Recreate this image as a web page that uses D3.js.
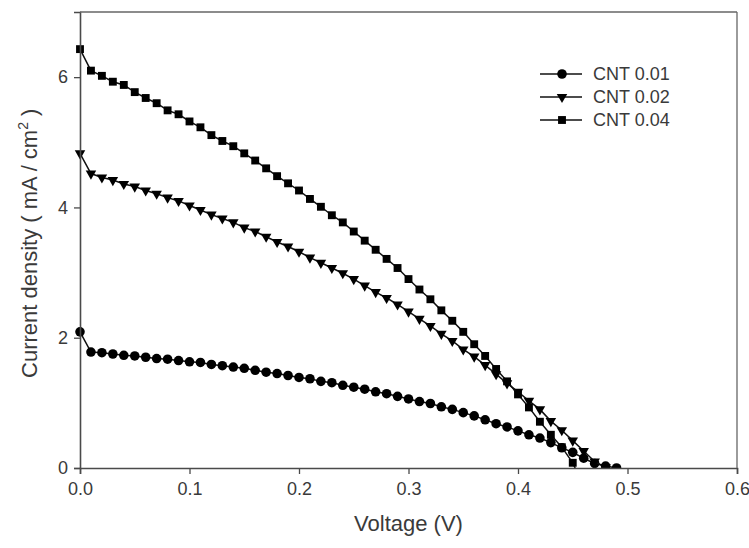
<!DOCTYPE html>
<html>
<head>
<meta charset="utf-8">
<script src="https://cdn.jsdelivr.net/npm/d3@7"></script>
<style>
  body { margin: 0; background: #fff; }
  text { font-family: "Liberation Sans", Arial, sans-serif; fill: #3a3a3a; }
</style>
</head>
<body>
<script>
// voltage steps (V)
var voltage = [0.00,0.01,0.02,0.03,0.04,0.05,0.06,0.07,0.08,0.09,
               0.10,0.11,0.12,0.13,0.14,0.15,0.16,0.17,0.18,0.19,
               0.20,0.21,0.22,0.23,0.24,0.25,0.26,0.27,0.28,0.29,
               0.30,0.31,0.32,0.33,0.34,0.35,0.36,0.37,0.38,0.39,
               0.40,0.41,0.42,0.43,0.44,0.45,0.46,0.47,0.48,0.49];

var cnt001 = [2.09,1.78,1.77,1.75,1.73,1.72,1.70,1.68,1.67,1.65,
              1.63,1.62,1.59,1.57,1.55,1.53,1.50,1.47,1.45,1.42,
              1.39,1.37,1.33,1.31,1.27,1.24,1.21,1.17,1.14,1.10,
              1.06,1.02,0.99,0.94,0.90,0.85,0.80,0.74,0.68,0.63,
              0.57,0.51,0.46,0.39,0.31,0.24,0.15,0.07,0.03,0.00];

var cnt002 = [4.83,4.52,4.46,4.42,4.36,4.32,4.26,4.21,4.15,4.10,
              4.03,3.96,3.89,3.83,3.77,3.69,3.63,3.55,3.47,3.40,
              3.32,3.23,3.15,3.07,2.99,2.90,2.80,2.70,2.61,2.51,
              2.40,2.29,2.18,2.06,1.95,1.82,1.71,1.58,1.44,1.30,
              1.17,1.03,0.90,0.72,0.58,0.42,0.26,0.10,0.01];

var cnt004 = [6.43,6.10,6.02,5.93,5.88,5.77,5.68,5.60,5.49,5.43,
              5.32,5.23,5.11,5.02,4.94,4.83,4.72,4.60,4.48,4.37,
              4.26,4.13,4.01,3.88,3.77,3.63,3.49,3.35,3.21,3.07,
              2.90,2.74,2.59,2.42,2.26,2.09,1.90,1.72,1.52,1.33,
              1.13,0.93,0.71,0.51,0.32,0.08,-0.30];

var seriesNames = ["CNT 0.01", "CNT 0.02", "CNT 0.04"];
var xTicks = [0.0, 0.1, 0.2, 0.3, 0.4, 0.5, 0.6];
var yTicks = [0, 2, 4, 6];

var W = 749, H = 548;
var margin = {top: 12, right: 12, bottom: 80, left: 80};
var width = W - margin.left - margin.right,
    height = H - margin.top - margin.bottom;

var svg = d3.select("body").append("svg")
  .attr("width", W)
  .attr("height", H);

var g = svg.append("g")
  .attr("transform", "translate(" + margin.left + "," + margin.top + ")");

var x = d3.scaleLinear().domain([0, 0.6]).range([0, width]);
var y = d3.scaleLinear().domain([0, 7]).range([height, 0]);

g.append("clipPath").attr("id", "clip")
  .append("rect").attr("x", -8).attr("y", -8)
  .attr("width", width + 16).attr("height", height + 8);

var series = [
  {name: seriesNames[0], vals: cnt001, sym: d3.symbolCircle, size: 72, rot: 0},
  {name: seriesNames[1], vals: cnt002, sym: d3.symbolTriangle, size: 48, rot: 180},
  {name: seriesNames[2], vals: cnt004, sym: d3.symbolSquare, size: 62, rot: 0}
];

var line = d3.line()
  .x(function(d) { return x(d[0]); })
  .y(function(d) { return y(d[1]); });

var plot = g.append("g").attr("clip-path", "url(#clip)");

series.forEach(function(s) {
  var pts = s.vals.map(function(v, i) { return [voltage[i], v]; });
  plot.append("path")
    .datum(pts)
    .attr("fill", "none")
    .attr("stroke", "#111")
    .attr("stroke-width", 1.5)
    .attr("d", line);
  plot.selectAll(null).data(pts).enter()
    .append("path")
    .attr("d", d3.symbol().type(s.sym).size(s.size))
    .attr("fill", "#000")
    .attr("transform", function(d) {
      return "translate(" + x(d[0]) + "," + y(d[1]) + ") rotate(" + s.rot + ")";
    });
});

// axes
var xAxis = d3.axisBottom(x).tickValues(xTicks).tickFormat(d3.format(".1f")).tickSizeOuter(0).tickSize(6).tickPadding(8);
var yAxis = d3.axisLeft(y).tickValues(yTicks).tickFormat(d3.format("d")).tickSizeOuter(0).tickSize(6).tickPadding(6);

var gx = g.append("g").attr("transform", "translate(0," + height + ")").call(xAxis);
var gy = g.append("g").call(yAxis);

[gx, gy].forEach(function(a) {
  a.select(".domain").attr("stroke", "#4a4a4a").attr("stroke-width", 1.6);
  a.selectAll(".tick line").attr("stroke", "#4a4a4a").attr("stroke-width", 1.3);
  a.selectAll(".tick text").style("font-size", "18px").attr("fill", "#3a3a3a")
    .style("font-family", "'Liberation Sans', Arial, sans-serif");
});

// frame top/right
g.append("line").attr("x1", 0).attr("x2", width).attr("y1", 0).attr("y2", 0)
  .attr("stroke", "#666").attr("stroke-width", 1.3);
g.append("line").attr("x1", width).attr("x2", width).attr("y1", 0).attr("y2", height)
  .attr("stroke", "#666").attr("stroke-width", 1.3);

// titles
svg.append("text")
  .attr("x", margin.left + x(0.3))
  .attr("y", 531)
  .attr("text-anchor", "middle")
  .style("font-size", "22px")
  .text("Voltage (V)");

var yt = svg.append("text")
  .attr("transform", "translate(37," + (margin.top + y(3.45)) + ") rotate(-90)")
  .attr("text-anchor", "middle")
  .style("font-size", "22px");
yt.append("tspan").text("Current density ( mA / cm");
yt.append("tspan").attr("dy", -9).style("font-size", "14px").text("2");
yt.append("tspan").attr("dy", 9).text(" )");

// legend
var legend = svg.append("g");
series.forEach(function(s, i) {
  var ly = 74 + i * 23;
  legend.append("line").attr("x1", 540).attr("x2", 582).attr("y1", ly).attr("y2", ly)
    .attr("stroke", "#111").attr("stroke-width", 1.5);
  legend.append("path")
    .attr("d", d3.symbol().type(s.sym).size(s.size))
    .attr("fill", "#000")
    .attr("transform", "translate(562," + ly + ") rotate(" + s.rot + ")");
  legend.append("text").attr("x", 593).attr("y", ly + 6)
    .style("font-size", "18px")
    .text(s.name);
});
</script>
</body>
</html>
